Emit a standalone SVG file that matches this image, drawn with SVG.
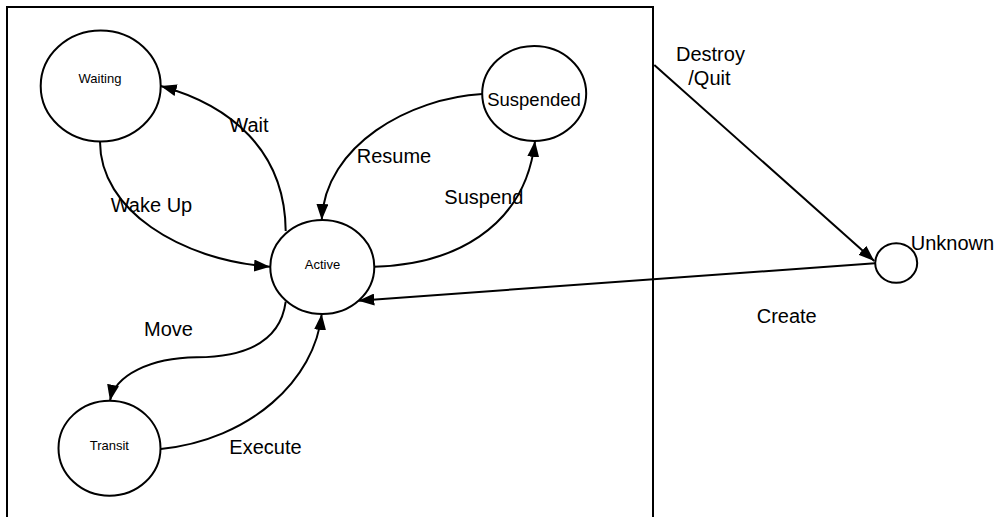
<svg xmlns="http://www.w3.org/2000/svg" width="1000" height="517" viewBox="0 0 1000 517">
<style>
.node{fill:#fff;stroke:#000;stroke-width:2}
.st{font-family:"Liberation Sans",Arial,sans-serif;font-size:13px;fill:#000;text-anchor:middle}
.lbl{font-family:"Liberation Sans",Arial,sans-serif;font-size:20px;fill:#000}
.edge{fill:none;stroke:#000;stroke-width:2;marker-end:url(#arr)}
</style>
<defs>
<marker id="arr" viewBox="0 0 16 12" refX="16" refY="6" markerWidth="16" markerHeight="12" markerUnits="userSpaceOnUse" orient="auto">
<path d="M0,0 L16,6 L0,12 Z" fill="#000"/>
</marker>
</defs>
<rect id="container" x="7" y="7" width="646" height="530" fill="#fff" stroke="#000" stroke-width="2"/>
<g id="connectors">
<path class="edge" d="M285.7,231 C285,150 230,105 160.7,86"/>
<path class="edge" d="M100,141.7 C100,210 180,260 270,266.7"/>
<path class="edge" d="M482.3,94 C410,98 325,145 321.7,220"/>
<path class="edge" d="M374,266.7 C450,265 525,230 535,141"/>
<path class="edge" d="M285.7,301.7 C280,345 240,357 196.7,357.3 C150,358 115,375 110,400.7"/>
<path class="edge" d="M160.7,449 C250,440 315,380 321.7,314"/>
<path class="edge" d="M654.3,65 L874.3,261"/>
<path class="edge" d="M875,263.3 L358.3,300.7"/>
</g>
<g id="labels">
<text class="lbl" x="229.3" y="131.7">Wait</text>
<text class="lbl" x="110.7" y="211.7">Wake Up</text>
<text class="lbl" x="356.7" y="163.3">Resume</text>
<text class="lbl" x="444.3" y="204">Suspend</text>
<text class="lbl" x="144" y="336">Move</text>
<text class="lbl" x="229.3" y="454">Execute</text>
<text class="lbl" x="676" y="60.7">Destroy</text>
<text class="lbl" x="688.3" y="85">/Quit</text>
<text class="lbl" x="756.7" y="323.3">Create</text>
</g>
<g id="waiting">
<ellipse class="node" cx="100.7" cy="86" rx="60" ry="55.5"/>
<text class="st" x="100" y="82.7">Waiting</text>
</g>
<g id="active">
<ellipse class="node" cx="322.3" cy="267" rx="52" ry="47"/>
<text class="st" x="322.5" y="268.7">Active</text>
</g>
<g id="suspended">
<ellipse class="node" cx="534.2" cy="93.5" rx="52" ry="47.5"/>
<text class="lbl" x="534" y="106" text-anchor="middle" style="font-size:18.5px">Suspended</text>
</g>
<g id="transit">
<ellipse class="node" cx="109.5" cy="448.2" rx="51" ry="47.5"/>
<text class="st" x="109.3" y="450">Transit</text>
</g>
<g id="unknown">
<ellipse class="node" cx="896.2" cy="263" rx="21" ry="19.7"/>
<text class="lbl" x="910.7" y="250">Unknown</text>
</g>
</svg>
